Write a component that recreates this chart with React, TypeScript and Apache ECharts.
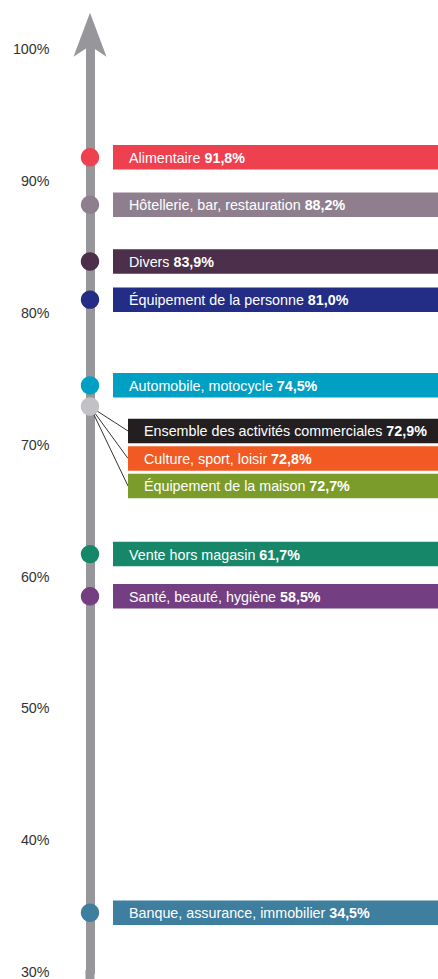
import React, { useEffect, useRef } from 'react';
import * as echarts from 'echarts';

const categories = [
  'Alimentaire',
  'Hôtellerie, bar, restauration',
  'Divers',
  'Équipement de la personne',
  'Automobile, motocycle',
  'Ensemble des activités commerciales',
  'Culture, sport, loisir',
  'Équipement de la maison',
  'Vente hors magasin',
  'Santé, beauté, hygiène',
  'Banque, assurance, immobilier',
];
const values = [91.8, 88.2, 83.9, 81.0, 74.5, 72.9, 72.8, 72.7, 61.7, 58.5, 34.5];
const barColors = [
  '#ef404f', '#8f7f8e', '#4b2f4b', '#232d85', '#00a0c4',
  '#231f20', '#f15a22', '#7b9b2a', '#17876a', '#733e82', '#3e7e9e',
];
// these three share one dot (at the first one's value) and are listed beneath it
const groupMembers = [5, 6, 7];
const groupDotColor = '#c2c2c6';

const yMin = 30;
const yMax = 100;
const yInterval = 10;

const FONT = "'Liberation Sans', Arial, sans-serif";
const fmt = (v: number) => v.toFixed(1).replace('.', ',') + '%';

export default function App() {
  const ref = useRef<HTMLDivElement>(null);
  useEffect(() => {
    const chart = echarts.init(ref.current!, null, { renderer: 'svg' });
    const barH = 24.5;
    chart.setOption({
      animation: false,
      grid: { left: 90, right: 0, top: 49.2, bottom: 2.8 },
      xAxis: { type: 'value', min: 0, max: 1, show: false },
      yAxis: {
        type: 'value',
        min: yMin,
        max: yMax,
        interval: yInterval,
        splitLine: { show: false },
        axisTick: { show: false },
        axisLabel: {
          formatter: '{value}%',
          color: '#333333',
          fontSize: 14.3,
          fontFamily: FONT,
          margin: 40.5,
        },
        axisLine: {
          show: true,
          symbol: ['none', 'arrow'],
          symbolSize: [24.75, 44],
          symbolOffset: [0, 36.5],
          lineStyle: { color: '#97979b', width: 9 },
        },
      },
      graphic: [
        {
          type: 'rect',
          shape: { x: 85.5, y: 970, width: 9, height: 12 },
          style: { fill: '#97979b' },
          z: 1,
        },
      ],
      series: [
        {
          type: 'custom',
          coordinateSystem: 'cartesian2d',
          data: values.map((v, i) => [0, v, i]),
          z: 5,
          renderItem: (params: any, api: any) => {
            const i = api.value(2) as number;
            const v = api.value(1) as number;
            const k = groupMembers.indexOf(i);
            const isGroup = k >= 0;
            const anchor = isGroup ? values[groupMembers[0]] : v;
            const [cx, cy] = api.coord([0, anchor]);
            const right = params.coordSys.x + params.coordSys.width;
            const barX = isGroup ? cx + 38 : cx + 23;
            const barY = isGroup ? cy + 24.5 + 27.5 * k : cy;
            const children: any[] = [];
            if (isGroup) {
              children.push({
                type: 'line',
                z2: 1,
                shape: { x1: cx, y1: cy, x2: barX, y2: barY },
                style: { stroke: '#333333', lineWidth: 1 },
              });
            }
            children.push({
              type: 'rect',
              z2: 2,
              shape: { x: barX, y: barY - barH / 2, width: right - barX, height: barH },
              style: { fill: barColors[i] },
            });
            children.push({
              type: 'text',
              z2: 3,
              style: {
                x: barX + 16,
                y: barY + 0.5,
                text: `{n|${categories[i]}} {b|${fmt(v)}}`,
                fill: '#ffffff',
                fontSize: 14.3,
                fontFamily: FONT,
                verticalAlign: 'middle',
                align: 'left',
                rich: {
                  n: { fill: '#ffffff', fontSize: 14.3, fontFamily: FONT },
                  b: { fill: '#ffffff', fontSize: 14.3, fontFamily: FONT, fontWeight: 'bold' },
                },
              },
            });
            if (!isGroup || k === 0) {
              children.push({
                type: 'circle',
                z2: 10,
                shape: { cx, cy, r: 9.2 },
                style: { fill: isGroup ? groupDotColor : barColors[i] },
              });
            }
            return { type: 'group', children };
          },
        },
      ],
    });
    return () => chart.dispose();
  }, []);
  return (
    <div
      ref={ref}
      style={{ position: 'absolute', left: 0, top: 0, width: 438, height: 979 }}
    />
  );
}
